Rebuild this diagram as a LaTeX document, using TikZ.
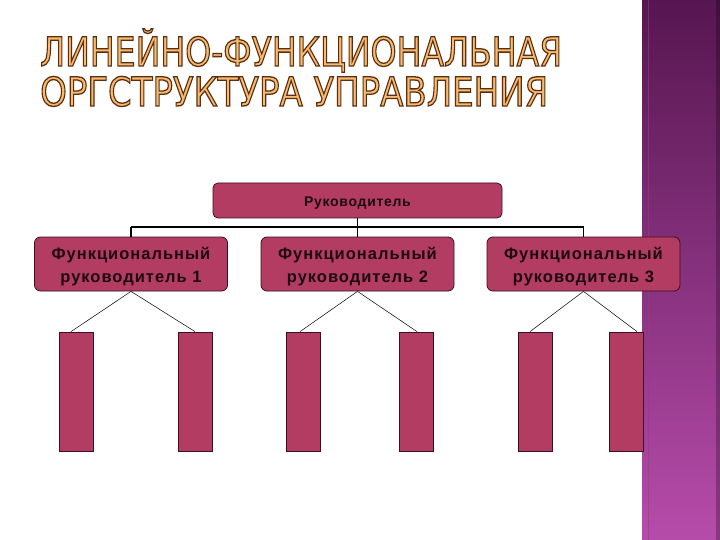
\documentclass[tikz,border=0pt]{standalone}
\usepackage{fontspec}
\setmainfont{Liberation Sans}
\newfontfamily\titlefont{DejaVu Sans}
\usetikzlibrary{calc}
\definecolor{boxfill}{RGB}{178,60,98}
\definecolor{boxline}{RGB}{60,15,30}
\definecolor{txt}{RGB}{30,8,18}
\definecolor{stripTop}{RGB}{86,22,80}
\definecolor{stripBot}{RGB}{182,76,170}
\definecolor{stripEdge}{RGB}{150,60,130}
\definecolor{titleFill}{RGB}{246,186,112}
\newsavebox\titleboxA
\newsavebox\titleboxB
\newlength\tlenA
\newlength\tlenB
\newcommand\outlinetext[1]{\special{pdf:literal direct 0.36 0.18 0.06 RG 2 Tr 1.3 w}#1\special{pdf:literal direct 0 Tr}}
\newcommand\toppad[1]{\rule{0pt}{#1}}
\begin{document}
\setbox\titleboxA\hbox{\titlefont\fontsize{40}{44}\selectfont ЛИНЕЙНО-ФУНКЦИОНАЛЬНАЯ}
\setbox\titleboxB\hbox{\titlefont\fontsize{40}{44}\selectfont ОРГСТРУКТУРА УПРАВЛЕНИЯ}
\setlength\tlenA{\wd\titleboxA}
\setlength\tlenB{\wd\titleboxB}
\begin{tikzpicture}[x=1pt,y=-1pt,
  bossbox/.style={rectangle, rounded corners=5pt, draw=boxline, fill=boxfill,
    line width=0.8pt, minimum width=289pt, minimum height=35pt, inner sep=0pt,
    text=txt, font=\bfseries\fontsize{14}{16}\selectfont\addfontfeature{LetterSpace=5}},
  funcbox/.style={rectangle, rounded corners=6pt, draw=boxline, fill=boxfill,
    line width=0.8pt, minimum width=193pt, minimum height=54pt, inner sep=0pt,
    align=center, text=txt, font=\bfseries\fontsize{16.5}{23}\selectfont\addfontfeature{LetterSpace=6}},
  unitbox/.style={rectangle, draw=boxline, fill=boxfill, line width=0.8pt,
    minimum width=34pt, minimum height=119pt, inner sep=0pt},
  busline/.style={line width=1.4pt, black},
  thinline/.style={line width=0.5pt, black},
  titletext/.style={anchor=base west, inner sep=0pt, text=titleFill}]
\useasboundingbox (0,0) rectangle (720,540);
\fill[white] (0,0) rectangle (720,540);
% right decorative strip
\shade[top color=stripTop, bottom color=stripBot] (642,0) rectangle (720,540);
\fill[black, opacity=0.25] (716,0) rectangle (720,540);
\draw[stripEdge, line width=1pt, opacity=0.6] (648,0) -- (648,540);
% title
\pgfmathsetmacro\sxA{522/\tlenA}
\pgfmathsetmacro\sxB{508/\tlenB}
\node[titletext] (title1) at (40,66) {\scalebox{\sxA}[1]{\outlinetext{\usebox\titleboxA}}};
\node[titletext] (title2) at (40,106) {\scalebox{\sxB}[1]{\outlinetext{\usebox\titleboxB}}};
% nodes
\node[bossbox] (boss) at (357.5,200.5) {\toppad{14pt}Руководитель};
\node[funcbox] (f1) at (131,264) {\toppad{18pt}Функциональный\\руководитель 1};
\node[funcbox] (f2) at (357.5,264) {\toppad{18pt}Функциональный\\руководитель 2};
\node[funcbox] (f3) at (583.5,264) {\toppad{18pt}Функциональный\\руководитель 3};
\node[unitbox] (u1) at (76,391.5) {};
\node[unitbox] (u2) at (195,391.5) {};
\node[unitbox] (u3) at (303,391.5) {};
\node[unitbox] (u4) at (416,391.5) {};
\node[unitbox] (u5) at (535,391.5) {};
\node[unitbox] (u6) at (626,391.5) {};
% bus connectors
\coordinate (bus) at (0,227);
\draw[busline] (boss.south) -- (boss.south |- bus);
\draw[busline] (f1.north |- bus) -- (f3.north |- bus);
\draw[busline] (f1.north |- bus) -- (f1.north);
\draw[busline] (boss.south |- bus) -- (f2.north);
\draw[busline] (f3.north |- bus) -- (f3.north);
% diagonal connectors
\draw[thinline] (f1.south) -- ([xshift=-5pt]u1.north);
\draw[thinline] (f1.south) -- (u2.north);
\draw[thinline] (f2.south) -- ([xshift=-3pt]u3.north);
\draw[thinline] (f2.south) -- ([xshift=1pt]u4.north);
\draw[thinline] (f3.south) -- ([xshift=-5pt]u5.north);
\draw[thinline] (f3.south) -- ([xshift=11pt]u6.north);
\end{tikzpicture}
\end{document}
